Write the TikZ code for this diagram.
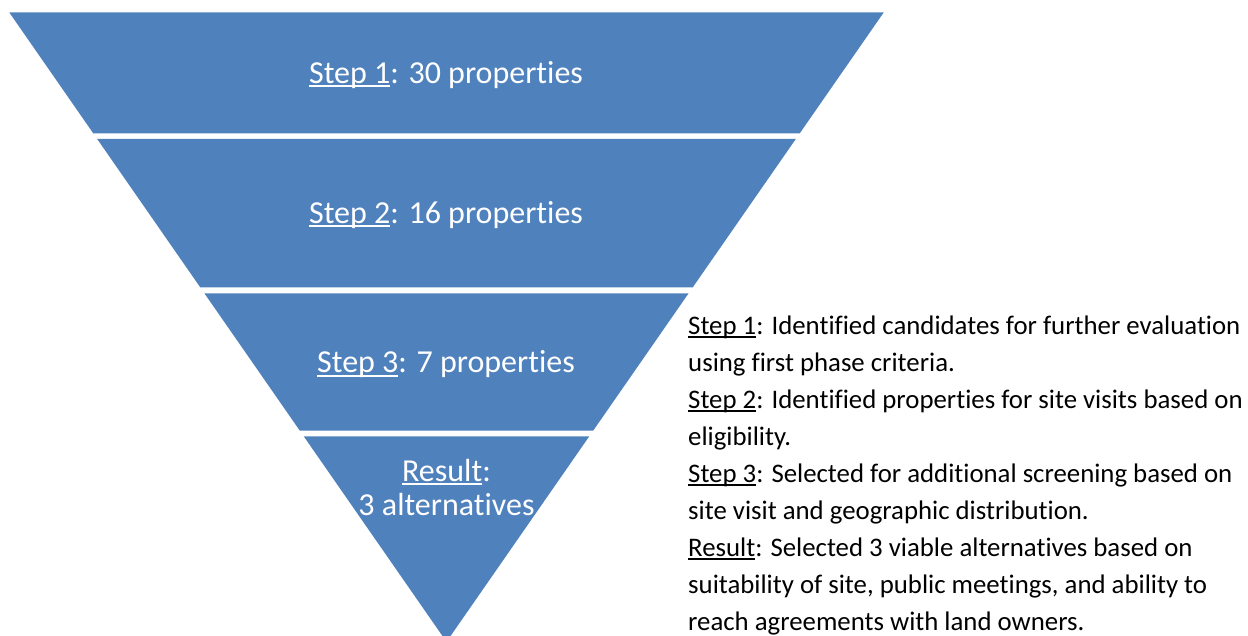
\documentclass[tikz,border=0pt]{standalone}
\usepackage{fontspec}
\setmainfont{Carlito}[Ligatures={NoCommon}]
\usepackage{tikz}

\definecolor{funnelblue}{RGB}{79,129,189}

\newlength\ulwd
\newcommand\ulabel[1]{\settowidth\ulwd{#1}\rlap{\rule[-0.12em]{\ulwd}{0.06em}}#1}

\begin{document}
\begin{tikzpicture}[x=1pt,y=-1pt]
        \tikzstyle{band}=[fill=funnelblue]
        \tikzstyle{funnel label}=[anchor=base,inner sep=0pt,text=white,font=\fontsize{32}{34}\selectfont]
        \tikzstyle{note line}=[anchor=base west,inner sep=0pt,text=black,font=\fontsize{26.8}{37}\selectfont]
            \useasboundingbox (0,0) rectangle (1248,636);

            % funnel bands, cut from one triangle
            \foreach \ya/\yb in {12.5/133.3, 139/287.3, 293.3/430.7, 436.3/641.8}{
                \pgfmathsetmacro\wa{0.6947*(641.8-\ya)}
                \pgfmathsetmacro\wb{0.6947*(641.8-\yb)}
                \fill[band] (446.5-\wa,\ya) -- (446.5+\wa,\ya) -- (446.5+\wb,\yb) -- (446.5-\wb,\yb) -- cycle;
            }

            \node[funnel label] (s1) at (446,83.3) {\ulabel{Step 1}: 30 properties};
            \node[funnel label] (s2) at (446,223.3) {\ulabel{Step 2}: 16 properties};
            \node[funnel label] (s3) at (446,372.8) {\ulabel{Step 3}: 7 properties};
            \node[funnel label] (r1) at (446.5,481.5) {\ulabel{Result}:};
            \node[funnel label] (r2) at (446.5,515.5) {3 alternatives};

            % notes on the right
            \node[note line] (n1) at (688,334.5) {\ulabel{Step 1}: Identified candidates for further evaluation};
            \node[note line] (n2) at (688,371.5) {using first phase criteria.};
            \node[note line] (n3) at (688,408.5) {\ulabel{Step 2}: Identified properties for site visits based on};
            \node[note line] (n4) at (688,445.5) {eligibility.};
            \node[note line] (n5) at (688,482.5) {\ulabel{Step 3}: Selected for additional screening based on};
            \node[note line] (n6) at (688,519.5) {site visit and geographic distribution.};
            \node[note line] (n7) at (688,556.5) {\ulabel{Result}: Selected 3 viable alternatives based on};
            \node[note line] (n8) at (688,593.5) {suitability of site, public meetings, and ability to};
            \node[note line] (n9) at (688,630.5) {reach agreements with land owners.};
        \end{tikzpicture}
\end{document}
